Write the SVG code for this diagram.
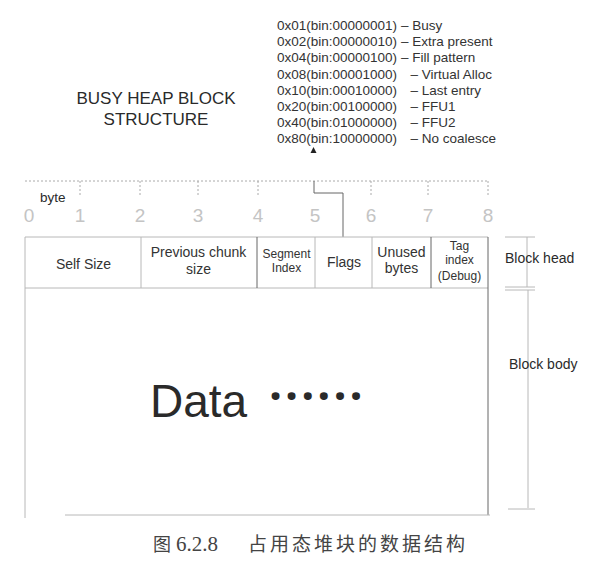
<svg xmlns="http://www.w3.org/2000/svg" width="601" height="564" viewBox="0 0 601 564">
<style>
  .t { font-family: "Liberation Sans", Arial, sans-serif; fill: #2a2a2a; }
  .hex { font-size: 13.5px; fill: #333; }
  .cell { font-size: 14px; text-anchor: middle; fill: #333; }
  .small { font-size: 12px; text-anchor: middle; fill: #333; }
  .num { font-family: "Liberation Sans", sans-serif; font-size: 19px; fill: #c4c4c4; text-anchor: middle; }
  .lt { stroke: #b8b8b8; stroke-width: 1; fill: none; }
  .dk { stroke: #666; stroke-width: 1; fill: none; }
  .dot { stroke: #aaa; stroke-width: 1; stroke-dasharray: 2 2; fill: none; }
  .cap { fill: #444; }
</style>

<rect width="601" height="564" fill="#ffffff"/>

<g id="title">
  <text class="t" x="156" y="104" font-size="17" text-anchor="middle" fill="#333">BUSY HEAP BLOCK</text>
  <text class="t" x="156" y="124.5" font-size="17" text-anchor="middle" fill="#333">STRUCTURE</text>
</g>

<g id="flag-list">
  <text class="t hex" x="277" y="30">0x01(bin:00000001)</text><text class="t hex" x="401" y="30">– Busy</text>
  <text class="t hex" x="277" y="46.2">0x02(bin:00000010)</text><text class="t hex" x="401" y="46.2">– Extra present</text>
  <text class="t hex" x="277" y="62.4">0x04(bin:00000100)</text><text class="t hex" x="401" y="62.4">– Fill pattern</text>
  <text class="t hex" x="277" y="78.6">0x08(bin:00001000)</text><text class="t hex" x="410.5" y="78.6">– Virtual Alloc</text>
  <text class="t hex" x="277" y="94.8">0x10(bin:00010000)</text><text class="t hex" x="410.5" y="94.8">– Last entry</text>
  <text class="t hex" x="277" y="111">0x20(bin:00100000)</text><text class="t hex" x="410.5" y="111">– FFU1</text>
  <text class="t hex" x="277" y="127.2">0x40(bin:01000000)</text><text class="t hex" x="410.5" y="127.2">– FFU2</text>
  <text class="t hex" x="277" y="143.4">0x80(bin:10000000)</text><text class="t hex" x="410.5" y="143.4">– No coalesce</text>
  <polygon points="313.5,147 310.5,153 316.5,153" fill="#222"/>
</g>

<g id="ruler">
  <line class="dot" x1="25" y1="181" x2="488" y2="181"/>
  <g class="dot">
    <line x1="80" y1="181" x2="80" y2="195"/>
    <line x1="140" y1="181" x2="140" y2="195"/>
    <line x1="198" y1="181" x2="198" y2="195"/>
    <line x1="258" y1="181" x2="258" y2="195"/>
    <line x1="371" y1="181" x2="371" y2="195"/>
    <line x1="428" y1="181" x2="428" y2="195"/>
    <line x1="488" y1="181" x2="488" y2="195"/>
  </g>
  <text class="t" x="40" y="202" font-size="13.5" fill="#333">byte</text>
  <text class="num" x="29" y="222">0</text>
  <text class="num" x="80" y="222">1</text>
  <text class="num" x="140" y="222">2</text>
  <text class="num" x="198" y="222">3</text>
  <text class="num" x="258" y="222">4</text>
  <text class="num" x="315" y="222">5</text>
  <text class="num" x="371" y="222">6</text>
  <text class="num" x="428" y="222">7</text>
  <text class="num" x="488" y="222">8</text>
</g>

<g id="connectors">
  <polyline class="dk" points="314,181 314,193 343,193 343,237"/>
</g>

<g id="block-head">
  <line class="lt" x1="25" y1="237" x2="488" y2="237"/>
  <line class="lt" x1="25" y1="288" x2="488" y2="288"/>
  <line class="lt" x1="141" y1="237" x2="141" y2="288"/>
  <line class="dk" x1="257" y1="237" x2="257" y2="288"/>
  <line class="lt" x1="315" y1="237" x2="315" y2="288"/>
  <line class="lt" x1="372" y1="237" x2="372" y2="288"/>
  <line class="dk" x1="431" y1="237" x2="431" y2="288"/>
  <text class="t cell" x="83.5" y="269">Self Size</text>
  <text class="t cell" x="198.5" y="257">Previous chunk</text>
  <text class="t cell" x="198.5" y="274">size</text>
  <text class="t small" x="286.5" y="258">Segment</text>
  <text class="t small" x="286.5" y="272">Index</text>
  <text class="t cell" x="344" y="267">Flags</text>
  <text class="t cell" x="401.5" y="257">Unused</text>
  <text class="t cell" x="401.5" y="273">bytes</text>
  <text class="t small" x="459.5" y="250" font-size="11.5">Tag</text>
  <text class="t small" x="459.5" y="264" font-size="11.5">index</text>
  <text class="t small" x="459.5" y="280" font-size="11.5">(Debug)</text>
</g>

<g id="block-body">
  <line class="lt" x1="25" y1="237" x2="25" y2="518"/>
  <line class="dk" x1="488" y1="237" x2="488" y2="515"/>
  <line class="lt" x1="65" y1="515" x2="490" y2="515"/>
  <text class="t" x="150" y="417" font-size="46" fill="#2a2a2a">Data</text>
  <text x="269" y="413" font-family="'Open Sans', 'DejaVu Sans', sans-serif" font-size="46" font-weight="bold" letter-spacing="3" fill="#2a2a2a">······</text>
</g>

<g id="block-head-label">
  <line class="lt" x1="505" y1="237" x2="535" y2="237"/>
  <line class="lt" x1="527" y1="237" x2="527" y2="287"/>
  <line class="lt" x1="505" y1="287" x2="535" y2="287"/>
  <text class="t" x="505" y="263" font-size="14" fill="#333">Block head</text>
</g>

<g id="block-body-label">
  <line class="lt" x1="505" y1="290" x2="535" y2="290"/>
  <line class="lt" x1="528" y1="290" x2="528" y2="508"/>
  <line class="lt" x1="508" y1="509" x2="535" y2="509"/>
  <text class="t" x="509" y="369" font-size="14" fill="#333">Block body</text>
</g>

<g id="caption">
  <text class="cap" x="153" y="551" font-family="'Noto Sans CJK SC', sans-serif" font-size="18">图</text>
  <text class="cap" x="176" y="551" font-family="'Liberation Serif', serif" font-size="21">6.2.8</text>
  <text class="cap" x="248" y="551" font-family="'Noto Sans CJK SC', sans-serif" font-size="19" textLength="217" lengthAdjust="spacing">占用态堆块的数据结构</text>
</g>
</svg>
